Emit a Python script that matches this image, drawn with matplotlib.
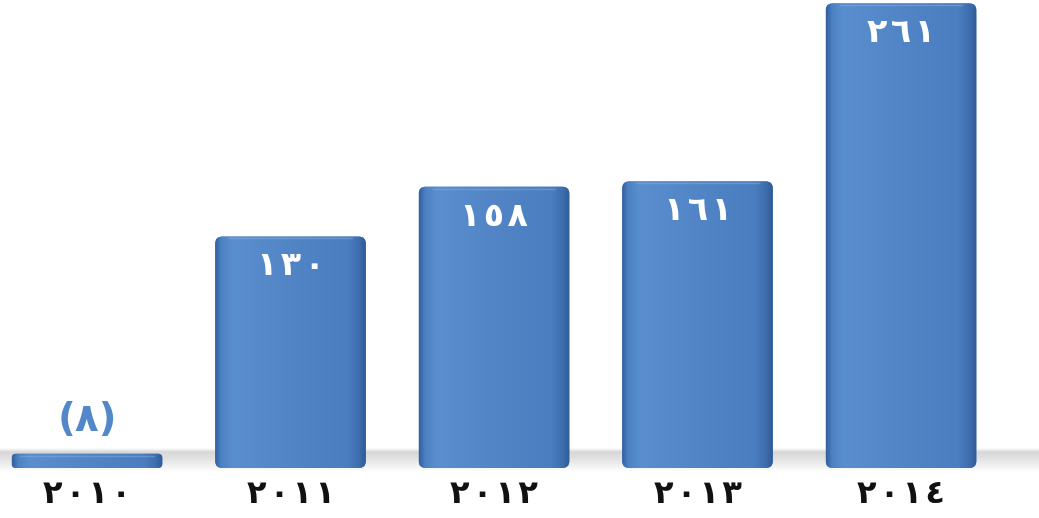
import numpy as np
import matplotlib
matplotlib.use("Agg")
import matplotlib.pyplot as plt
from matplotlib.patches import FancyBboxPatch
from matplotlib.colors import LinearSegmentedColormap

# data
years = ["٢٠١٠", "٢٠١١", "٢٠١٢", "٢٠١٣", "٢٠١٤"]
values = [-8, 130, 158, 161, 261]
value_labels = ["(٨)", "١٣٠", "١٥٨", "١٦١", "٢٦١"]

plt.rcParams['font.family'] = ['DejaVu Sans']


def spaced(s):
    # the source uses widely spaced digits
    return "\u200a".join(s)


fig = plt.figure(figsize=(10.39, 5.18), dpi=100)
ax = fig.add_axes([0, 0, 1, 1])
ax.axis('off')

x = np.arange(len(years))
heights = [abs(v) for v in values]
bars = ax.bar(x, heights, width=0.74, color='none', edgecolor='none')

# soft baseline shadow band
band = np.linspace(0, 1, 64).reshape(-1, 1)
shadow_cmap = LinearSegmentedColormap.from_list(
    'shadow', [(0, (0.55, 0.55, 0.55, 0.0)), (0.55, (0.55, 0.55, 0.55, 0.25)),
               (0.85, (0.55, 0.55, 0.55, 0.35)), (1, (0.55, 0.55, 0.55, 0.0))])
ax.imshow(band, cmap=shadow_cmap, extent=[-0.4275, 4.678, -2, 11],
          aspect='auto', zorder=1, origin='lower', interpolation='bicubic')

cmap = LinearSegmentedColormap.from_list(
    'barshade', [(0, '#33609e'), (0.04, '#4c82c4'), (0.12, '#5a8ecf'),
                 (0.5, '#5185c6'), (0.88, '#4a7ec0'), (0.96, '#3d6cab'),
                 (1, '#2f5a94')])
grad = np.linspace(0, 1, 256).reshape(1, -1)

# px -> data scale for rounding
sx = 1 / 203.5
sy = 1 / 1.78
for rect, v in zip(bars, values):
    bx, by, bw, bh = rect.get_x(), rect.get_y(), rect.get_width(), rect.get_height()
    r = min(7, bh / sy * 0.3) * sx
    box = FancyBboxPatch((bx + r, by + r * sy / sx), bw - 2 * r, bh - 2 * r * sy / sx,
                         boxstyle="round,pad=%f" % r, mutation_aspect=sy / sx,
                         facecolor='#4a80c2', edgecolor='none', zorder=2)
    ax.add_patch(box)
    im = ax.imshow(grad, cmap=cmap, extent=[bx, bx + bw, by, by + bh],
                   aspect='auto', zorder=3, interpolation='bicubic')
    im.set_clip_path(box)
    # top highlight
    ax.plot([bx + 2 * r, bx + bw - 2 * r], [by + bh - 1.0, by + bh - 1.0],
            color='#86ace0', lw=1.0, alpha=0.5, zorder=4)

ax.set_xlim(-0.4275, 4.678)
ax.set_ylim(-28.1, 262.9)

for xi, v, lab in zip(x, values, value_labels):
    if v < 0:
        ax.text(xi, abs(v) + 19, lab, ha='center', va='center', fontsize=28,
                fontweight='bold', color='#5288c9', zorder=5)
    else:
        ax.text(xi, v - 16.5, spaced(lab), ha='center', va='center', fontsize=24,
                fontweight='bold', color='white', zorder=5)

for xi, yr in zip(x, years):
    ax.text(xi, -15, spaced(yr), ha='center', va='center', fontsize=23,
            fontweight='bold', color='#111111', zorder=5)

fig.savefig('out.png', dpi=100)
